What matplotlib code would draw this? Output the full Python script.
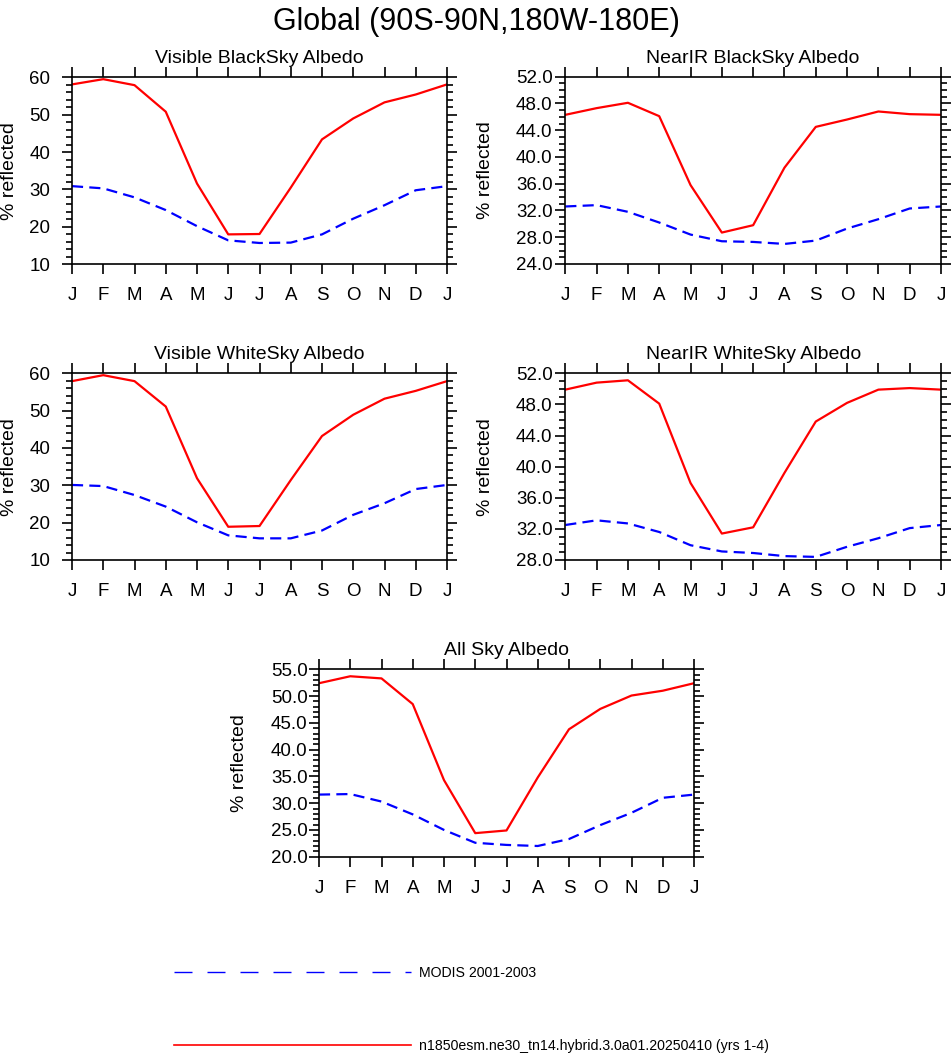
import matplotlib
matplotlib.use("Agg")
import matplotlib.pyplot as plt
from matplotlib.ticker import MultipleLocator, FormatStrFormatter
from matplotlib.lines import Line2D

plt.rcParams['font.family'] = ['Liberation Sans', 'DejaVu Sans']

# month axis (13 points, Jan..Jan)
months = ["J", "F", "M", "A", "M", "J", "J", "A", "S", "O", "N", "D", "J"]

vis_black_model = [58.1, 59.5, 57.9, 50.8, 31.6, 18.0, 18.1, 30.5, 43.4, 49.0, 53.3, 55.4, 58.1]
vis_black_modis = [30.9, 30.3, 27.9, 24.5, 20.2, 16.4, 15.7, 15.8, 18.0, 22.2, 25.8, 29.8, 30.9]
nir_black_model = [46.3, 47.3, 48.1, 46.1, 35.8, 28.7, 29.8, 38.4, 44.5, 45.6, 46.8, 46.4, 46.3]
nir_black_modis = [32.6, 32.8, 31.8, 30.2, 28.4, 27.4, 27.3, 27.0, 27.5, 29.3, 30.7, 32.3, 32.6]
vis_white_model = [57.9, 59.5, 57.9, 51.1, 31.9, 18.9, 19.1, 31.4, 43.2, 48.9, 53.2, 55.3, 57.9]
vis_white_modis = [30.1, 29.8, 27.4, 24.3, 20.1, 16.6, 15.8, 15.8, 17.9, 22.1, 25.2, 29.0, 30.1]
nir_white_model = [49.9, 50.8, 51.1, 48.1, 37.9, 31.4, 32.2, 39.2, 45.8, 48.2, 49.9, 50.1, 49.9]
nir_white_modis = [32.5, 33.1, 32.7, 31.6, 29.9, 29.1, 28.9, 28.5, 28.4, 29.7, 30.8, 32.1, 32.5]
all_sky_model = [52.4, 53.7, 53.3, 48.5, 34.3, 24.4, 24.9, 34.8, 43.8, 47.6, 50.1, 51.0, 52.4]
all_sky_modis = [31.6, 31.7, 30.3, 27.9, 25.0, 22.6, 22.2, 22.0, 23.3, 25.9, 28.2, 31.0, 31.6]

titles = ["Visible BlackSky Albedo", "NearIR BlackSky Albedo",
          "Visible WhiteSky Albedo", "NearIR WhiteSky Albedo", "All Sky Albedo"]
model_name = "n1850esm.ne30_tn14.hybrid.3.0a01.20250410 (yrs 1-4)"
obs_name = "MODIS 2001-2003"

W, H = 952, 1056
fig = plt.figure(figsize=(W / 100, H / 100), dpi=100)

# (left, right, top, bottom) in pixels, y range, major, minor, fmt, ylabel x, ytick pad
panels = [
    ((72, 447, 77.3, 264.3), (10, 60), 10, 2, "%d", -0.167, 8.6, vis_black_model, vis_black_modis),
    ((565.3, 941, 76.7, 264.0), (24, 52), 4, 1, "%.1f", -0.213, 2.2, nir_black_model, nir_black_modis),
    ((72, 447, 373.3, 560), (10, 60), 10, 2, "%d", -0.167, 8.6, vis_white_model, vis_white_modis),
    ((565.3, 941, 373.3, 560), (28, 52), 4, 1, "%.1f", -0.213, 2.2, nir_white_model, nir_white_modis),
    ((319, 694, 669.3, 856.7), (20, 55), 5, 1, "%.1f", -0.213, 1.2, all_sky_model, all_sky_modis),
]

x = list(range(len(months)))
for (box, ylim, major, minor, fmt, ylx, ypad, model, obs), title in zip(panels, titles):
    l, r, t, b = box
    ax = fig.add_axes((l / W, 1 - b / H, (r - l) / W, (b - t) / H))
    ax.plot(x, obs, color="blue", lw=1.6, linestyle=(0, (5.0, 2.8)))
    ax.plot(x, model, color="red", lw=1.6)
    ax.set_xlim(0, 12)
    ax.set_ylim(*ylim)
    ax.set_xticks(x)
    ax.set_xticklabels(months)
    ax.yaxis.set_major_locator(MultipleLocator(major))
    ax.yaxis.set_minor_locator(MultipleLocator(minor))
    ax.yaxis.set_major_formatter(FormatStrFormatter(fmt))
    ax.tick_params(axis="both", which="both", direction="out", width=1.2,
                   top=True, right=True, labelsize=13.5)
    ax.tick_params(axis="both", which="major", length=7)
    ax.tick_params(axis="y", which="minor", length=4)
    ax.tick_params(axis="x", which="major", pad=9.5)
    ax.tick_params(axis="y", which="major", pad=ypad)
    for s in ax.spines.values():
        s.set_linewidth(1.2)
    ax.set_ylabel("% reflected", fontsize=14)
    ax.yaxis.label.set_verticalalignment("center")
    ax.yaxis.set_label_coords(ylx, 0.5)
    ax.text(0.5, 1 + 14 / (b - t), title, transform=ax.transAxes,
            ha="center", va="baseline", fontsize=14)

fig.text(0.5, 1 - 30 / H, "Global (90S-90N,180W-180E)", ha="center",
         va="baseline", fontsize=22)

# legend drawn in figure pixels
x0, x1 = 174 / W, 411 / W
y_obs, y_mod = 1 - 971.7 / H, 1 - 1045 / H
fig.add_artist(Line2D([x0, x1], [y_obs, y_obs], transform=fig.transFigure,
                      color="blue", lw=1.0, linestyle=(0, (12.96, 10.8))))
fig.add_artist(Line2D([x0, x1], [y_mod, y_mod], transform=fig.transFigure,
                      color="red", lw=1.2))
fig.text(419 / W, y_obs - 5.3 / H, obs_name, ha="left", va="baseline", fontsize=10.2)
fig.text(419 / W, y_mod - 5.3 / H, model_name, ha="left", va="baseline", fontsize=10.2)

fig.savefig("out.png", dpi=100)
